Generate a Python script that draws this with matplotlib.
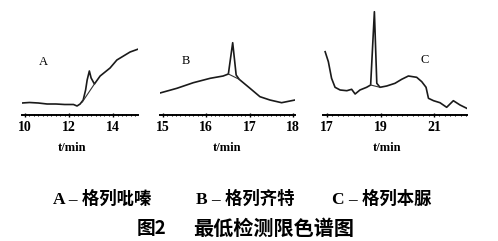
import matplotlib
matplotlib.use("Agg")
import matplotlib.pyplot as plt
from matplotlib.ticker import MultipleLocator

plt.rcParams['font.family'] = ['Liberation Serif', 'Noto Sans CJK SC', 'DejaVu Sans']

# ---- data (time in min, detector response in arbitrary units) ----
a_time = [9.86, 10.2, 10.6, 11.0, 11.4, 11.8, 12.2, 12.36, 12.5, 12.64, 12.75, 12.82,
          12.92, 13.0, 13.15, 13.41, 13.86, 14.17, 14.47, 14.77, 15.15]
a_resp = [12, 12.5, 12, 11, 11, 10.5, 10.5, 9, 11, 15, 25, 35,
          44, 37, 31, 39, 47, 55, 59, 63, 66]
a_base_time = [12.6, 13.15]
a_base_resp = [13, 31]

b_time = [14.93, 15.32, 15.70, 16.09, 16.39, 16.51, 16.61, 16.69, 16.76, 17.01,
          17.24, 17.47, 17.74, 18.05]
b_resp = [22, 26.7, 32.3, 36.7, 39, 41, 72.3, 40, 35.7, 26.7,
          18.3, 15, 12.3, 15]
b_base_time = [16.51, 16.76]
b_base_resp = [41, 35.7]

c_time = [16.93, 17.05, 17.17, 17.30, 17.49, 17.74, 17.92, 18.05, 18.23, 18.48, 18.63,
          18.77, 18.86, 18.98, 19.23, 19.54, 19.79, 20.04, 20.35, 20.54, 20.70,
          20.79, 20.98, 21.22, 21.47, 21.72, 21.97, 22.22]
c_resp = [63.3, 53.3, 36.7, 27.7, 25, 24.3, 25.7, 21, 25, 27.7, 30,
          103.3, 31.7, 27.7, 29, 31.7, 35.7, 39, 37.7, 33.3, 27.7,
          16.7, 14.3, 12.3, 7.7, 14.3, 10, 6.7]
c_base_time = [18.63, 18.98]
c_base_resp = [30, 27.7]

panel_labels = ["A", "B", "C"]
panel_ticks = [[10, 12, 14], [15, 16, 17, 18], [17, 19, 21]]
panel_xlim = [(9.86, 15.13), (14.93, 18.05), (16.85, 22.23)]
xlabel = "t/min"
legend_items = ["A – 格列吡嗪", "B – 格列齐特", "C – 格列本脲"]
title_fig = "图2"
title_text = "最低检测限色谱图"

W, H = 498, 241
fig = plt.figure(figsize=(W / 100, H / 100), dpi=100)
fig.patch.set_facecolor("white")

px_left = [22, 160, 323]
px_right = [138, 295, 467]
ax_top_px, ax_line_px = 0, 115
label_pos = [(43, 62), (186, 61), (425, 60)]
xlabel_x = [72, 227, 387]
legend_x = [53, 196, 332]

series = [(a_time, a_resp, a_base_time, a_base_resp),
          (b_time, b_resp, b_base_time, b_base_resp),
          (c_time, c_resp, c_base_time, c_base_resp)]
minor_steps = [0.2, 0.1, 0.2]

for i in range(3):
    l = px_left[i] / W
    w = (px_right[i] - px_left[i]) / W
    b = 1 - ax_line_px / H
    h = (ax_line_px - ax_top_px) / H
    ax = fig.add_axes([l, b, w, h])
    t, r, bt, br = series[i]
    ax.plot(t, r, color="#1a1a1a", lw=1.2, solid_joinstyle="round")
    ax.plot(bt, br, color="#333333", lw=0.8)
    ax.set_xlim(*panel_xlim[i])
    ax.set_ylim(0, ax_line_px - ax_top_px)
    for s in ["top", "right", "left"]:
        ax.spines[s].set_visible(False)
    ax.spines["bottom"].set_linewidth(1.4)
    ax.set_yticks([])
    ax.set_xticks(panel_ticks[i])
    ax.xaxis.set_minor_locator(MultipleLocator(minor_steps[i]))
    ax.tick_params(axis="x", which="major", direction="inout", length=3, width=1,
                   pad=2.5, labelsize=10)
    ax.tick_params(axis="x", which="minor", direction="inout", length=2, width=0.7)
    for lab in ax.get_xticklabels():
        lab.set_fontweight("bold")
    ax.patch.set_alpha(0)
    fig.text(label_pos[i][0] / W, 1 - label_pos[i][1] / H, panel_labels[i],
             fontsize=9, ha="center", va="center")
    fig.text(xlabel_x[i] / W, 1 - 148 / H, xlabel, fontsize=9,
             fontweight="bold", ha="center", va="center")

for i, item in enumerate(legend_items):
    fig.text(legend_x[i] / W, 1 - 199 / H, item, fontsize=12.5, ha="left", va="center",
             family=["Liberation Serif", "Noto Sans CJK SC"], fontweight="bold")
fig.text(137 / W, 1 - 228 / H, title_fig, fontsize=13.5, ha="left", va="center",
         family=["Noto Sans CJK SC"], fontweight="bold")
fig.text(193 / W, 1 - 228 / H, title_text, fontsize=14.5, ha="left", va="center",
         family=["Noto Sans CJK SC"], fontweight="bold")

fig.savefig("out.png", dpi=100, facecolor="white")
